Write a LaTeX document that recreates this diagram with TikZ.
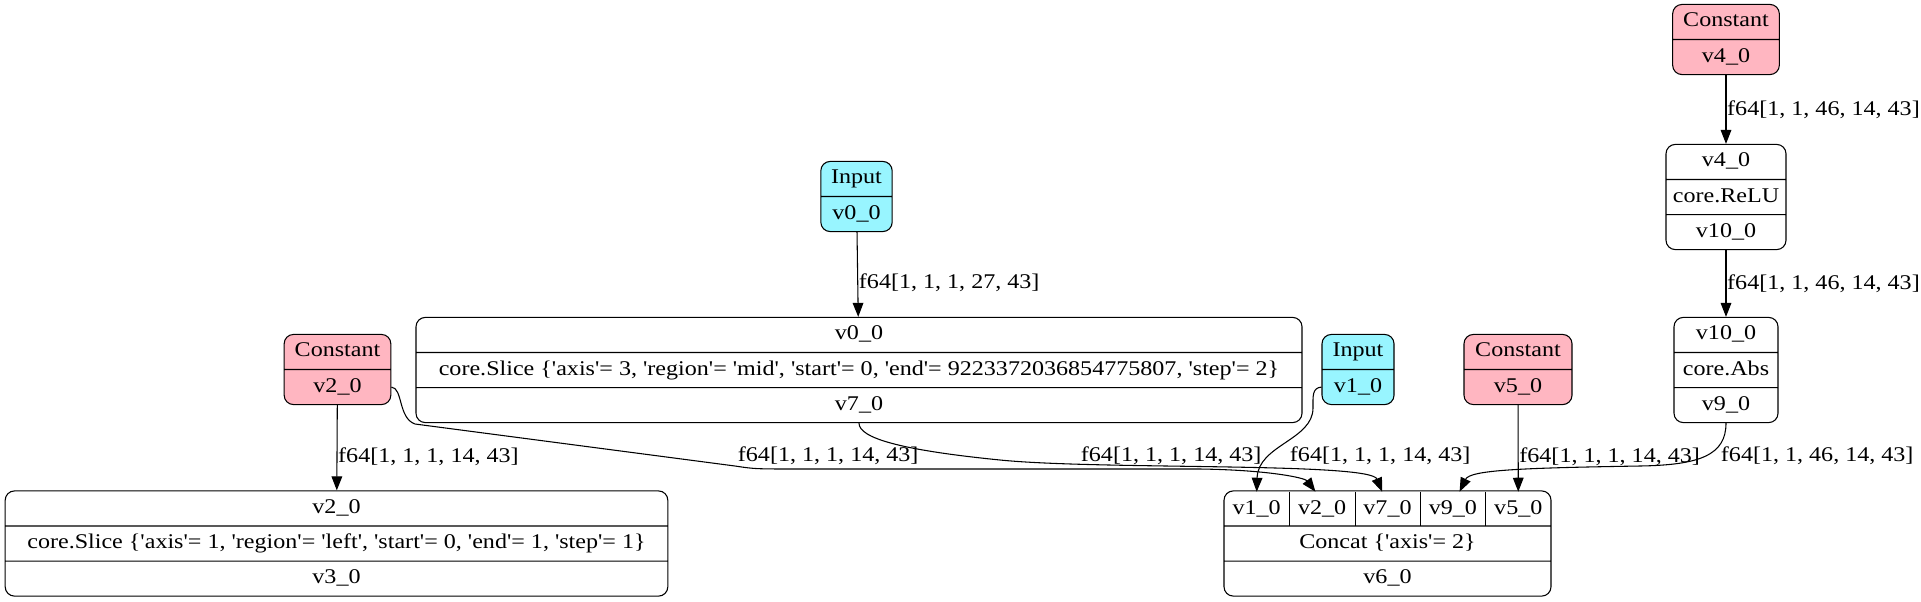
\documentclass[tikz,border=0pt]{standalone}
\usepackage{fontspec}
\setmainfont{Liberation Serif}[Ligatures=TeXOff, FakeStretch=1.15]
\usetikzlibrary{shapes.multipart,arrows.meta}
\definecolor{pinkc}{RGB}{255,182,193}
\definecolor{cyanc}{RGB}{152,245,255}
\tikzset{
  rec/.style={rectangle split, rectangle split parts=3, draw, rounded corners=7pt,
    inner xsep=4pt, inner ysep=3.35pt, line width=0.8pt},
  rec2/.style={rec, rectangle split parts=2},
  cell/.style={inner sep=0pt, minimum width=49pt, minimum height=25.5pt},
  edge/.style={-{Triangle[length=10.5pt,width=8pt]}, line width=0.8pt},
  lbl/.style={anchor=west, inner xsep=0.5pt, inner ysep=0pt},
}
\begin{document}
\begin{tikzpicture}[x=0.75pt, y=-0.75pt, font=\fontsize{15.7}{18.8}\selectfont]
  \useasboundingbox (0,0) rectangle (1921,601);

  % sources
  \node[rec2, fill=pinkc, minimum width=80pt] (c4) at (1726,39.5) {\strut Constant\nodepart{two}\strut v4\_0};
  \node[rec2, fill=cyanc, minimum width=53.5pt] (in0) at (856.5,196.5) {\strut Input\nodepart{two}\strut v0\_0};
  \node[rec2, fill=pinkc, minimum width=80pt] (c2) at (337.5,369.5) {\strut Constant\nodepart{two}\strut v2\_0};
  \node[rec2, fill=cyanc, minimum width=54pt] (in1) at (1358,369.5) {\strut Input\nodepart{two}\strut v1\_0};
  \node[rec2, fill=pinkc, minimum width=81pt] (c5) at (1518,369.5) {\strut Constant\nodepart{two}\strut v5\_0};

  % ops
  \node[rec, minimum width=90pt] (relu) at (1726,197) {\strut v4\_0\nodepart{two}\strut core.ReLU\nodepart{three}\strut v10\_0};
  \node[rec, minimum width=78pt] (abs) at (1726,370) {\strut v10\_0\nodepart{two}\strut core.Abs\nodepart{three}\strut v9\_0};
  \node[rec, minimum width=664.5pt] (s7) at (859,370) {\strut v0\_0\nodepart{two}\strut core.Slice \{'axis'= 3, 'region'= 'mid', 'start'= 0, 'end'= 9223372036854775807, 'step'= 2\}\nodepart{three}\strut v7\_0};
  \node[rec, minimum width=497pt] (s3) at (336.5,543.5) {\strut v2\_0\nodepart{two}\strut core.Slice \{'axis'= 1, 'region'= 'left', 'start'= 0, 'end'= 1, 'step'= 1\}\nodepart{three}\strut v3\_0};
  \node[rec, minimum width=245.25pt] (cc) at (1387.5,543.5) {\strut\nodepart{two}\strut Concat \{'axis'= 2\}\nodepart{three}\strut v6\_0};

  % concat input cells
  \node[cell] (cv1) at (1256.7,509) {v1\_0};
  \node[cell] (cv2) at (1322.1,509) {v2\_0};
  \node[cell] (cv7) at (1387.5,509) {v7\_0};
  \node[cell] (cv9) at (1452.9,509) {v9\_0};
  \node[cell] (cv5) at (1518.3,509) {v5\_0};
  \foreach \c in {cv1,cv2,cv7,cv9}
    \draw[line width=0.8pt] (\c.north east) -- (\c.south east);

  % straight edges
  \draw[edge] (c4) -- (relu) node[lbl, pos=0.5] {f64[1, 1, 46, 14, 43]};
  \draw[edge] (relu) -- (abs) node[lbl, pos=0.5] {f64[1, 1, 46, 14, 43]};
  \draw[edge] (in0) -- (s7) node[lbl, pos=0.6] {f64[1, 1, 1, 27, 43]};
  \draw[edge] (c2) -- (s3) node[lbl, pos=0.6] {f64[1, 1, 1, 14, 43]};
  \draw[edge] (c5) -- (cv5) node[lbl, pos=0.6] {f64[1, 1, 1, 14, 43]};

  % curved edges
  \draw[edge] (c2.two east) .. controls (403,388) and (398,418) .. (415,424) -- (735,466)
    .. controls (755,469) .. (800,469) -- (1200,469) .. controls (1270,470) and (1305,478) .. ([xshift=-5pt]cv2.north);
  \draw[edge] (s7.south) .. controls (859,438) and (900,450) .. (1000,460)
    .. controls (1100,470) and (1370,462) .. ([xshift=-4pt]cv7.north);
  \draw[edge] (in1.two west) .. controls (1312,388) and (1313,396) .. (1313,408)
    .. controls (1313,440) and (1258,445) .. (cv1.north);
  \draw[edge] (abs.south) .. controls (1726,455) and (1700,465) .. (1640,466)
    .. controls (1520,468) and (1470,470) .. ([xshift=5pt]cv9.north);

  % curved edge labels
  \node[lbl] (l2) at (737,456) {f64[1, 1, 1, 14, 43]};
  \node[lbl] (l7) at (1080,456) {f64[1, 1, 1, 14, 43]};
  \node[lbl] (l1) at (1289,456) {f64[1, 1, 1, 14, 43]};
  \node[lbl] (l9) at (1720,456) {f64[1, 1, 46, 14, 43]};
\end{tikzpicture}
\end{document}
